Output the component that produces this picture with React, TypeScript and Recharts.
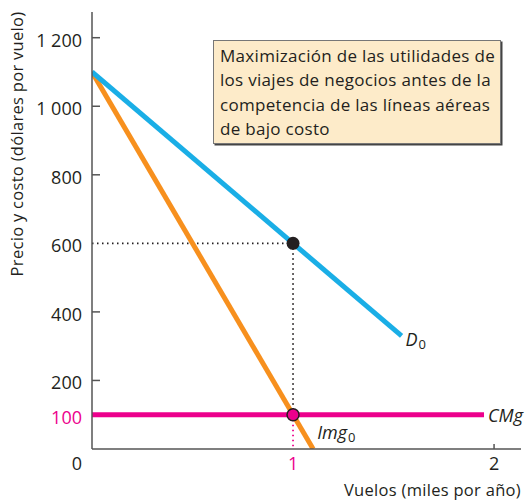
import React from "react";
import { LineChart, Line, XAxis, YAxis, ReferenceLine, ReferenceDot } from "recharts";

const demandData = [
  { q: 0, p: 1100 },
  { q: 1.54, p: 330 },
];
const mrData = [
  { q: 0, p: 1100 },
  { q: 1.1, p: 0 },
];
const mcData = [
  { q: 0, p: 100 },
  { q: 1.95, p: 100 },
];
const eqQ = 1;
const eqPrice = 600;
const eqCost = 100;
const yTicks = [0, 100, 200, 400, 800, 1000, 1200, 600];
const xTicks = [1, 2];
const title = [
  "Maximización de las utilidades de",
  "los viajes de negocios antes de la",
  "competencia de las líneas aéreas",
  "de bajo costo",
];

const FONT = "'Open Sans', Lato, sans-serif";
const BLUE = "#1aaee6";
const ORANGE = "#f7901e";
const PINK = "#ec008c";
const DARK = "#231f20";
const AXIS = "#555";

const fmt = (v: number) => (v >= 1000 ? `${Math.floor(v / 1000)} ${String(v % 1000).padStart(3, "0")}` : String(v));

const YTick = (props: any) => {
  const { x, y, payload } = props;
  const v = payload.value;
  const pink = v === eqCost;
  const showLine = v !== 0 && v !== eqCost && v !== eqPrice;
  return (
    <g>
      {showLine && <line x1={x + 10} x2={x + 18} y1={y} y2={y} stroke={AXIS} strokeWidth={1.5} />}
      <text
        x={x}
        y={v === 0 ? y + 14 : y + 2}
        textAnchor="end"
        dominantBaseline="central"
        fontFamily={FONT}
        fontSize={18}
        fill={pink ? PINK : "#231f20"}
      >
        {fmt(v)}
      </text>
    </g>
  );
};

const XTick = (props: any) => {
  const { x, y, payload } = props;
  const v = payload.value;
  const pink = v === eqQ;
  return (
    <g>
      {!pink && <line x1={x} x2={x} y1={y - 14} y2={y - 19} stroke={AXIS} strokeWidth={1.5} />}
      <text x={x} y={y} textAnchor="middle" dominantBaseline="central" fontFamily={FONT} fontSize={18} fill={pink ? PINK : "#231f20"}>
        {v}
      </text>
    </g>
  );
};

const makeLabel = (main: string, sub: string, dx: number, dy: number) => (props: any) => {
  const vb = props.viewBox || {};
  const cx = (vb.x ?? 0) + (vb.width ?? 0) / 2;
  const cy = (vb.y ?? 0) + (vb.height ?? 0) / 2;
  return (
    <text x={cx + dx} y={cy + dy} fontFamily={FONT} fontSize={18} fontStyle="italic" fill={DARK} dominantBaseline="central">
      {main}
      {sub && (
        <tspan fontSize={13} fontStyle="normal" dx={1} dy={5}>
          {sub}
        </tspan>
      )}
    </text>
  );
};

export default function App() {
  return (
    <div style={{ position: "absolute", left: 0, top: 0, width: 531, height: 500, background: "#fff" }}>
      <LineChart width={531} height={500} margin={{ top: 12, right: 10, left: 32, bottom: 21 }}>
        <XAxis
          dataKey="q"
          type="number"
          domain={[0, 2.134]}
          ticks={xTicks}
          allowDataOverflow
          tickSize={0}
          tickMargin={14}
          tickLine={false}
          axisLine={{ stroke: AXIS, strokeWidth: 1.5 }}
          tick={<XTick />}
          height={30}
          label={(p: any) => (
            <text x={521} y={489} textAnchor="end" dominantBaseline="central" fontFamily={FONT} fontSize={16.5} letterSpacing={0.3} fill={DARK}>
              Vuelos (miles por año)
            </text>
          )}
        />
        <YAxis
          dataKey="p"
          type="number"
          domain={[0, 1275]}
          ticks={yTicks}
          allowDataOverflow
          interval={0}
          tickSize={0}
          tickMargin={10}
          tickLine={false}
          axisLine={{ stroke: AXIS, strokeWidth: 1.5 }}
          tick={<YTick />}
          width={60}
          label={(p: any) => (
            <text
              x={16}
              y={144}
              transform="rotate(-90 16 144)"
              textAnchor="middle"
              dominantBaseline="central"
              fontFamily={FONT}
              fontSize={16.5}
              letterSpacing={0.3}
              fill={DARK}
            >
              Precio y costo (dólares por vuelo)
            </text>
          )}
        />
        <ReferenceLine
          segment={[
            { x: 0, y: eqPrice },
            { x: eqQ, y: eqPrice },
          ]}
          stroke={DARK}
          strokeWidth={1.8}
          strokeDasharray="1.5 3.5"
        />
        <ReferenceLine
          segment={[
            { x: eqQ, y: eqPrice },
            { x: eqQ, y: eqCost },
          ]}
          stroke={DARK}
          strokeWidth={1.8}
          strokeDasharray="1.5 3.5"
        />
        <ReferenceLine
          segment={[
            { x: eqQ, y: eqCost },
            { x: eqQ, y: 0 },
          ]}
          stroke={PINK}
          strokeWidth={1.8}
          strokeDasharray="1.5 3.5"
        />
        <Line data={mrData} dataKey="p" stroke={ORANGE} strokeWidth={5} dot={false} isAnimationActive={false} />
        <Line data={demandData} dataKey="p" stroke={BLUE} strokeWidth={5} dot={false} isAnimationActive={false} />
        <Line data={mcData} dataKey="p" stroke={PINK} strokeWidth={5} dot={false} isAnimationActive={false} />
        <ReferenceDot x={1.54} y={330} r={0} fill="none" stroke="none" label={makeLabel("D", "0", 4, 3)} />
        <ReferenceDot x={1.1} y={50} r={0} fill="none" stroke="none" label={makeLabel("Img", "0", 4, 0)} />
        <ReferenceDot x={1.95} y={100} r={0} fill="none" stroke="none" label={makeLabel("CMg", "", 4, 0)} />
        <ReferenceDot x={eqQ} y={eqPrice} r={6.5} fill={DARK} stroke="none" />
        <ReferenceDot x={eqQ} y={eqCost} r={6} fill={PINK} stroke={DARK} strokeWidth={1.5} />
      </LineChart>
      <div
        style={{
          position: "absolute",
          left: 213,
          top: 40,
          width: 288,
          height: 104,
          background: "#fdebc9",
          border: "1px solid #777",
          boxShadow: "1.5px 1.5px 0 #444",
          fontFamily: FONT,
          fontSize: 17,
          letterSpacing: "0.3px",
          lineHeight: "24.3px",
          color: DARK,
          padding: "3px 0 0 6px",
          boxSizing: "border-box",
          whiteSpace: "nowrap",
        }}
      >
        {title.map((t) => (
          <div key={t}>{t}</div>
        ))}
      </div>
    </div>
  );
}
